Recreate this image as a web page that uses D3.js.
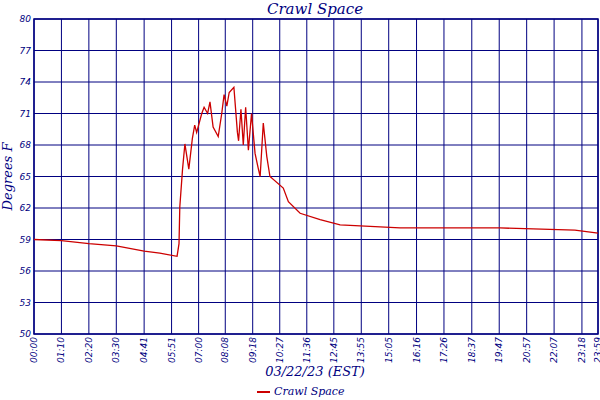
<!DOCTYPE html>
<html><head><meta charset="utf-8">
<script src="https://cdn.jsdelivr.net/npm/d3@7"></script>
<style>body{margin:0;background:#fff}</style>
</head><body><div id="chart"></div>
<script>
// minutes since midnight and temperature (deg F)
var minutes = [0,70,140,210,281,321,365,370,372,379,385,395,404,410,415,428,434,443,449,457,470,479,485,492,498,510,519,522,528,534,540,547,555,564,572,577,585,594,602,636,649,679,730,781,934,1189,1380,1439];
var temps = [59.0,58.9,58.6,58.4,57.9,57.7,57.4,58.6,62.1,65.7,68.1,65.7,68.6,69.9,69.2,71.0,71.6,71.0,72.1,69.7,68.8,71.0,72.8,71.7,73.0,73.5,69.2,68.4,71.4,68.0,71.6,67.5,71.0,67.2,65.8,65.0,70.1,66.9,65.0,63.9,62.6,61.5,60.9,60.4,60.1,60.1,59.9,59.6];
var tickMinutes = [0,70,140,210,281,351,420,488,558,627,696,765,835,905,976,1046,1117,1187,1257,1327,1398,1439];
var tickLabels = ["00:00","01:10","02:20","03:30","04:41","05:51","07:00","08:08","09:18","10:27","11:36","12:45","13:55","15:05","16:16","17:26","18:37","19:47","20:57","22:07","23:18","23:59"];
var yTicks = [50,53,56,59,62,65,68,71,74,77,80];

var w = 600, h = 400;
var padL = 34, padR = 598, padT = 19, padB = 334;
var navy = "#000080";

var svg = d3.select("#chart").append("svg").attr("width", w).attr("height", h);

var x = d3.scaleLinear().domain([0, 1439]).range([padL, padR]);
var y = d3.scaleLinear().domain([50, 80]).range([padB, padT]);

// grid
svg.selectAll(".vg").data(tickMinutes).enter().append("line")
  .attr("x1", function(d){return x(d);}).attr("x2", function(d){return x(d);})
  .attr("y1", padT).attr("y2", padB).attr("stroke", navy).attr("stroke-width", 1);
svg.selectAll(".hg").data(yTicks).enter().append("line")
  .attr("x1", padL).attr("x2", padR)
  .attr("y1", function(d){return y(d);}).attr("y2", function(d){return y(d);})
  .attr("stroke", navy).attr("stroke-width", 1);
svg.append("rect").attr("x", padL).attr("y", padT).attr("width", padR-padL).attr("height", padB-padT)
  .attr("fill", "none").attr("stroke", navy).attr("stroke-width", 1.5);

// line
var line = d3.line().x(function(d){return x(d[0]);}).y(function(d){return y(d[1]);});
svg.append("path").datum(d3.zip(minutes, temps)).attr("d", line)
  .attr("fill", "none").attr("stroke", "#cc0000").attr("stroke-width", 1.3);

// y tick labels
svg.selectAll(".yl").data(yTicks).enter().append("text")
  .attr("x", padL - 3).attr("y", function(d){return y(d) + 3;})
  .attr("text-anchor", "end").attr("font-family", "DejaVu Sans").attr("font-style", "italic")
  .attr("font-size", 9).attr("fill", navy).text(function(d){return d;});

// x tick labels
svg.selectAll(".xl").data(tickMinutes).enter().append("text")
  .attr("transform", function(d){return "translate(" + (x(d) + 3) + "," + (padB + 3) + ") rotate(-90)";})
  .attr("text-anchor", "end").attr("font-family", "DejaVu Sans").attr("font-style", "italic")
  .attr("font-size", 9).attr("fill", navy).text(function(d, i){return tickLabels[i];});

var serif = "DejaVu Serif";
svg.append("text").attr("x", 315).attr("y", 14).attr("text-anchor", "middle")
  .attr("font-family", serif).attr("font-style", "italic").attr("font-size", 15).attr("fill", navy).text("Crawl Space");
svg.append("text").attr("transform", "translate(12," + ((padT + padB) / 2) + ") rotate(-90)")
  .attr("text-anchor", "middle").attr("font-family", serif).attr("font-style", "italic")
  .attr("font-size", 13).attr("fill", navy).text("Degrees F");
svg.append("text").attr("x", 315).attr("y", 376).attr("text-anchor", "middle")
  .attr("font-family", serif).attr("font-style", "italic").attr("font-size", 13).attr("fill", navy).text("03/22/23 (EST)");
svg.append("line").attr("x1", 257).attr("x2", 270).attr("y1", 392).attr("y2", 392).attr("stroke", "#cc0000").attr("stroke-width", 2);
svg.append("text").attr("x", 274).attr("y", 395).attr("font-family", serif).attr("font-style", "italic")
  .attr("font-size", 11).attr("fill", navy).text("Crawl Space");
</script></body></html>
